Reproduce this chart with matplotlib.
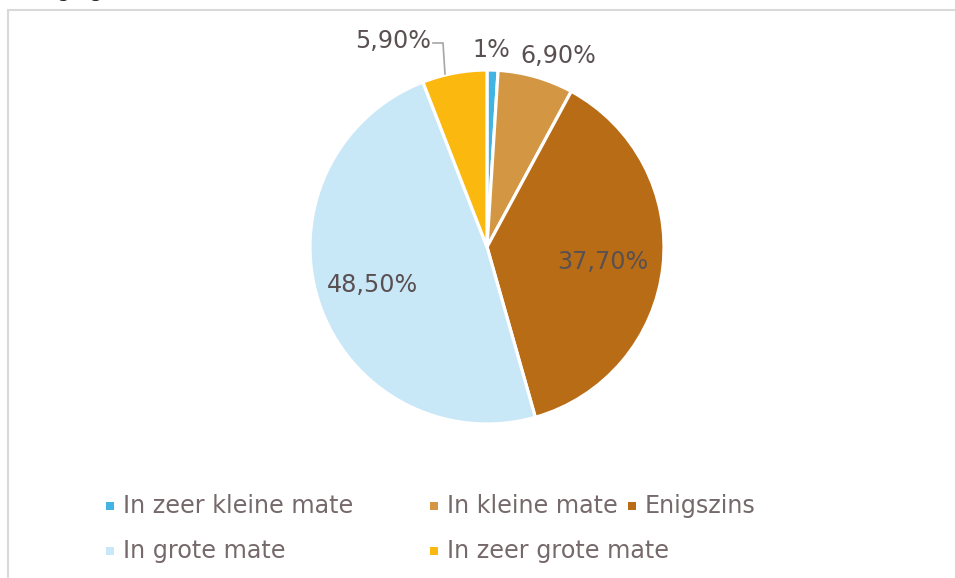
import numpy as np
import matplotlib; matplotlib.use("Agg"); import matplotlib.pyplot as plt
from matplotlib.patches import Rectangle

plt.rcParams["font.family"] = ["DejaVu Sans"]

categories = ["In zeer kleine mate", "In kleine mate", "Enigszins", "In grote mate", "In zeer grote mate"]
values = [1.0, 6.9, 37.7, 48.5, 5.9]
labels = ["1%", "6,90%", "37,70%", "48,50%", "5,90%"]
colors = ["#41B4E4", "#D39643", "#B86C16", "#C8E7F7", "#FBB90F"]

W, H = 955, 578
fig = plt.figure(figsize=(W/100, H/100), dpi=100)
ax = fig.add_axes([0, 0, 1, 1])

def py(y): return H - y  # pixel row -> data y

cx, cy, r = 487, py(247), 177
ax.pie(values, colors=colors, startangle=90, counterclock=False, center=(cx, cy), radius=r,
       wedgeprops=dict(edgecolor="white", linewidth=2.3), frame=True)
ax.set_xlim(0, W); ax.set_ylim(0, H); ax.set_aspect("equal"); ax.axis("off")

# chart area border (cut off at right/bottom)
ax.add_patch(Rectangle((8, -20), W + 40, py(10) + 20, fill=False, ec="#D9D9D9", lw=1.5))
# title above the chart, mostly outside the picture
ax.text(2, py(-3), "Uitdagingen", fontsize=15, color="#222222", va="baseline", ha="left")

lab_pos = [(491, 50), (558, 56), (603, 262), (372, 285), (393, 41)]
for t, (x, y) in zip(labels, lab_pos):
    ax.text(x, py(y), t, fontsize=17.2, color="#5A5052", ha="center", va="center")
# leader line for 5,90%
ax.plot([433, 443, 445], [py(43), py(43), py(74)], color="#A6A6A6", lw=1.2, solid_joinstyle="miter")

# legend
leg_x = [110, 434, 632, 110, 434]
leg_y = [506, 506, 506, 551, 551]
for c, name, x, y in zip(colors, categories, leg_x, leg_y):
    ax.add_patch(Rectangle((x - 4, py(y) - 4), 8, 8, color=c, lw=0))
    ax.text(x + 13, py(y), name, fontsize=17.2, color="#75696B", ha="left", va="center")

fig.savefig("out.png", dpi=100)
